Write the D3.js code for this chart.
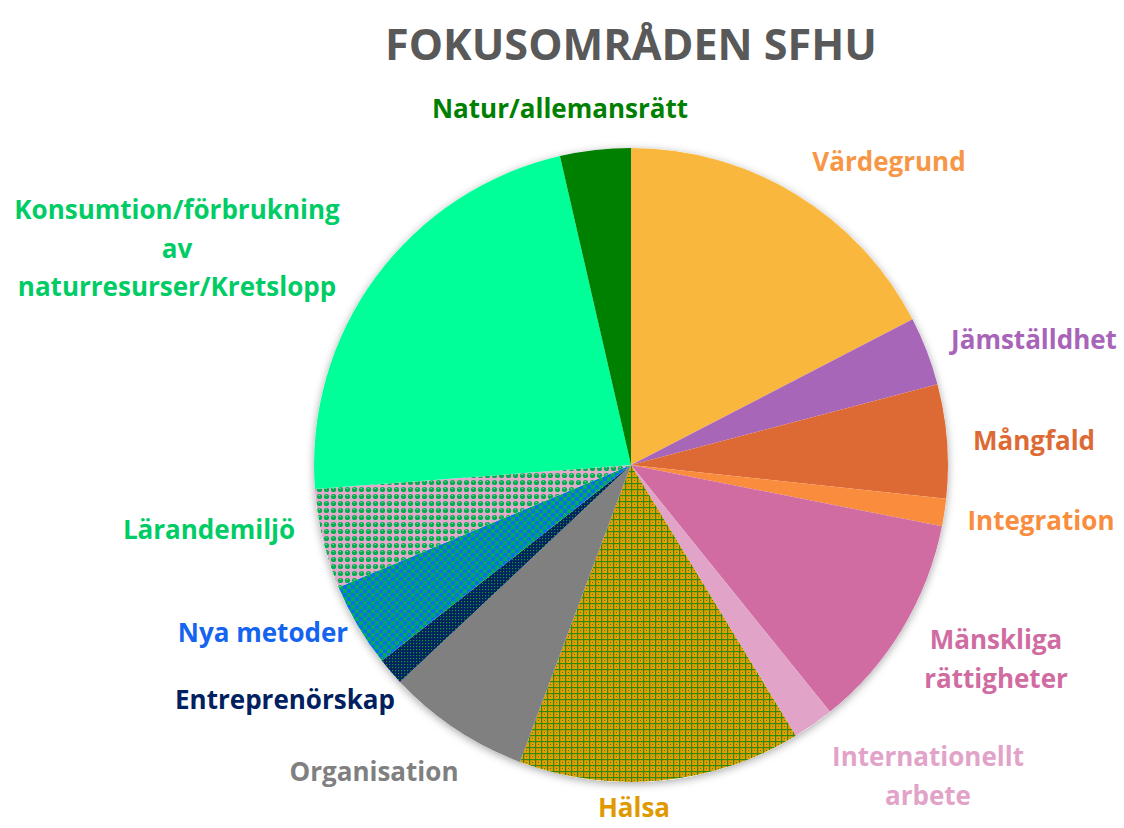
<!DOCTYPE html>
<html>
<head>
<meta charset="utf-8">
<script src="https://cdn.jsdelivr.net/npm/d3@7"></script>
<style>
  html, body { margin: 0; padding: 0; background: #fff; }
  svg { display: block; }
  text { font-family: "Open Sans", "DejaVu Sans", sans-serif; font-weight: 700; }
</style>
</head>
<body>
<svg id="chart" width="1124" height="828"></svg>
<script>
// Slice data, clockwise from 12 o'clock (shares in %)
const categories = ['Värdegrund', 'Jämställdhet', 'Mångfald', 'Integration', 'Mänskliga rättigheter',
  'Internationellt arbete', 'Hälsa', 'Organisation', 'Entreprenörskap', 'Nya metoder',
  'Lärandemiljö', 'Konsumtion/förbrukning av naturresurser/Kretslopp', 'Natur/allemansrätt'];
const values = [17.4, 3.5, 5.8, 1.4, 11.1, 2.1, 14.4, 7.3, 1.4, 4.3, 5.1, 22.6, 3.6];
// label lines as they appear around the pie
const labelLines = [['Värdegrund'], ['Jämställdhet'], ['Mångfald'], ['Integration'], ['Mänskliga', 'rättigheter'],
  ['Internationellt', 'arbete'], ['Hälsa'], ['Organisation'], ['Entreprenörskap'], ['Nya metoder'],
  ['Lärandemiljö'], ['Konsumtion/förbrukning', 'av', 'naturresurser/Kretslopp'], ['Natur/allemansrätt']];

const sliceFill = ['#f9b83d', '#a866b9', '#dd6a35', '#f98c3d', '#d06ca2', '#e2a3c9', 'url(#pHalsa)',
  '#808080', 'url(#pEntre)', 'url(#pNya)', 'url(#pLarande)', '#00ff99', '#008000'];
const labelColor = ['#f79646', '#a864b8', '#dd6a35', '#f98c3d', '#d06ca2', '#e2a3c9', '#e09a00',
  '#808080', '#002060', '#1464f0', '#00cc66', '#00cc66', '#008000'];
// label anchor (center x, first baseline y)
const labelPos = [[889, 171], [1034, 349], [1034, 450], [1041, 530], [996, 649], [928, 766], [634, 817],
  [374, 781], [285, 709], [263, 642], [209, 539], [177, 219], [560, 118]];

const W = 1124, H = 828;
const cx = 631, cy = 465, R = 317;

const svg = d3.select('#chart');
const defs = svg.append('defs');

// drop shadow round the pie
const f = defs.append('filter').attr('id', 'shadow')
  .attr('x', '-10%').attr('y', '-10%').attr('width', '120%').attr('height', '120%');
f.append('feDropShadow').attr('dx', 0).attr('dy', 2).attr('stdDeviation', 4)
  .attr('flood-color', '#000').attr('flood-opacity', 0.35);

// fill patterns
function pattern(id, size) {
  return defs.append('pattern').attr('id', id).attr('patternUnits', 'userSpaceOnUse')
    .attr('width', size).attr('height', size);
}
let p = pattern('pLarande', 7);
p.append('rect').attr('width', 7).attr('height', 7).attr('fill', '#e4a9cc');
p.append('circle').attr('cx', 3.5).attr('cy', 3.5).attr('r', 2.6).attr('fill', '#00b050');
p.append('rect').attr('x', 2.5).attr('y', 2).attr('width', 1.5).attr('height', 1).attr('fill', '#6fcf98');

p = pattern('pNya', 8);
p.append('rect').attr('width', 8).attr('height', 8).attr('fill', '#00b050');
p.append('rect').attr('width', 4).attr('height', 4).attr('fill', '#0a6cf5');
p.append('rect').attr('x', 4).attr('y', 4).attr('width', 4).attr('height', 4).attr('fill', '#0a6cf5');

p = pattern('pEntre', 3);
p.append('rect').attr('width', 3).attr('height', 3).attr('fill', '#002060');
p.append('rect').attr('x', 1).attr('y', 1).attr('width', 1.2).attr('height', 1.2).attr('fill', '#109a30');

p = pattern('pHalsa', 6);
p.append('rect').attr('width', 6).attr('height', 6).attr('fill', '#e89c00');
p.append('rect').attr('x', 0).attr('y', 0).attr('width', 6).attr('height', 1.2).attr('fill', '#2f8a10');
p.append('rect').attr('x', 0).attr('y', 0).attr('width', 1.2).attr('height', 6).attr('fill', '#2f8a10');
p.append('rect').attr('x', 3).attr('y', 3).attr('width', 1).attr('height', 1).attr('fill', '#2f8a10');

// title
const title = svg.append('text')
  .attr('x', cx).attr('y', 60)
  .attr('text-anchor', 'middle')
  .attr('fill', '#595959')
  .attr('font-size', 44)
  .text('FOKUSOMRÅDEN SFHU');
// fit title width to the reference (about 492px)
const tw = title.node().getComputedTextLength();
title.attr('font-size', 44 * 492 / tw);

// pie
const pie = d3.pie().value(d => d).sort(null);
const arc = d3.arc().innerRadius(0).outerRadius(R);
const arcs = pie(values);

const g = svg.append('g').attr('transform', `translate(${cx},${cy})`);
g.append('circle').attr('r', R).attr('fill', '#fff').attr('filter', 'url(#shadow)');
g.selectAll('path.slice')
  .data(arcs)
  .join('path')
  .attr('class', 'slice')
  .attr('d', arc)
  .attr('fill', (d, i) => sliceFill[i]);

// labels
const labels = svg.append('g');
labelLines.forEach((lines, i) => {
  const t = labels.append('text')
    .attr('text-anchor', 'middle')
    .attr('fill', labelColor[i])
    .attr('font-size', 26);
  lines.forEach((ln, j) => {
    t.append('tspan')
      .attr('x', labelPos[i][0])
      .attr('y', labelPos[i][1] + j * 38.5)
      .text(ln);
  });
});
</script>
</body>
</html>
